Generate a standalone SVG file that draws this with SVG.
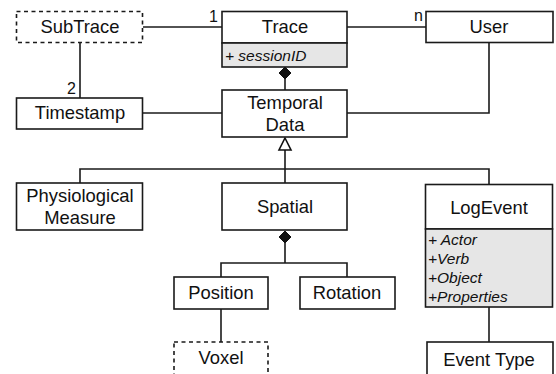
<svg xmlns="http://www.w3.org/2000/svg" width="556" height="374" viewBox="0 0 556 374">
<style>
.box{fill:#fff;stroke:#1a1a1a;stroke-width:1.6}
.dash{fill:#fff;stroke:#1a1a1a;stroke-width:1.6;stroke-dasharray:4 3.5}
.attr{fill:#e6e6e6;stroke:#1a1a1a;stroke-width:1.6}
.ln{fill:none;stroke:#1a1a1a;stroke-width:1.6}
text{font-family:"Liberation Sans",Arial,sans-serif;fill:#111}
.t{font-size:18.4px;text-anchor:middle}
.a{font-size:15.5px;font-style:italic}
.m{font-size:16px}
</style>
<g id="connectors">
<path class="ln" d="M143 27H222"/>
<path class="ln" d="M347 27H426"/>
<path class="ln" d="M80 43V98"/>
<path class="ln" d="M143 113H222"/>
<path class="ln" d="M489 43V113H347"/>
<path class="ln" d="M285 79V90"/>
<path d="M285 67L291 73L285 79L279 73Z" fill="#111" stroke="#111" stroke-width="1"/>
<path class="ln" d="M285 150V169M80 183V169H489V184M285 169V183"/>
<path d="M285 138L291 150H279Z" fill="#fff" stroke="#111" stroke-width="1.6"/>
<path class="ln" d="M285 243V263M221 277V263H347V277"/>
<path d="M285 231L291 237L285 243L279 237Z" fill="#111" stroke="#111" stroke-width="1"/>
<path class="ln" d="M221 309V342"/>
<path class="ln" d="M489 307V342"/>
<text class="m" x="209" y="22">1</text>
<text class="m" x="414" y="21">n</text>
<text class="m" x="67" y="94">2</text>
</g>
<g id="SubTrace"><rect class="dash" x="16.5" y="11.5" width="126" height="31"/><text class="t" x="80" y="33">SubTrace</text></g>
<g id="Trace"><rect class="box" x="222" y="11.5" width="125" height="31.5"/><rect class="attr" x="222" y="43" width="125" height="24"/><text class="t" x="285" y="33">Trace</text><text class="a" x="225" y="61">+ sessionID</text></g>
<g id="User"><rect class="box" x="426" y="11.5" width="127" height="31"/><text class="t" x="489" y="33">User</text></g>
<g id="Timestamp"><rect class="box" x="16.5" y="98" width="126" height="31"/><text class="t" x="80" y="119">Timestamp</text></g>
<g id="TemporalData"><rect class="box" x="222" y="90" width="125" height="47"/><text class="t" x="285" y="109">Temporal</text><text class="t" x="285" y="131">Data</text></g>
<g id="PhysiologicalMeasure"><rect class="box" x="16.5" y="183" width="126" height="47"/><text class="t" x="80" y="202">Physiological</text><text class="t" x="80" y="224">Measure</text></g>
<g id="Spatial"><rect class="box" x="222" y="183" width="125" height="47"/><text class="t" x="285" y="213">Spatial</text></g>
<g id="LogEvent"><rect class="box" x="425.5" y="184.5" width="127" height="44.5"/><rect class="attr" x="425.5" y="229" width="127" height="78"/><text class="t" x="489" y="214">LogEvent</text><text class="a" x="428" y="245">+ Actor</text><text class="a" x="428" y="264">+Verb</text><text class="a" x="428" y="283">+Object</text><text class="a" x="428" y="302">+Properties</text></g>
<g id="Position"><rect class="box" x="174" y="277" width="94" height="32"/><text class="t" x="221" y="299">Position</text></g>
<g id="Rotation"><rect class="box" x="300" y="277" width="95" height="32"/><text class="t" x="347" y="299">Rotation</text></g>
<g id="Voxel"><rect class="dash" x="174" y="342" width="94" height="40"/><text class="t" x="221" y="364">Voxel</text></g>
<g id="EventType"><rect class="box" x="427" y="342" width="126" height="40"/><text class="t" x="489" y="366">Event Type</text></g>
</svg>
